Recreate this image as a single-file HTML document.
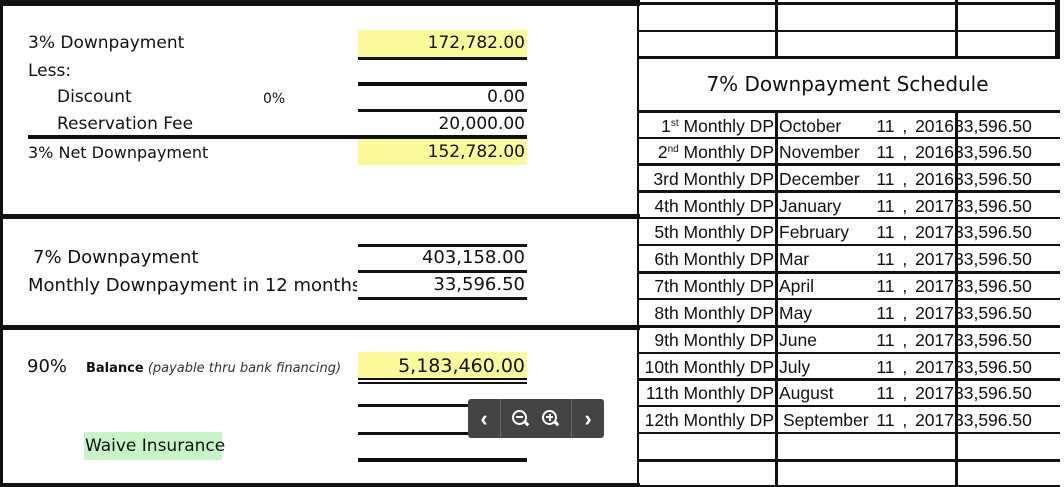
<!DOCTYPE html>
<html><head><style>
body{margin:0;width:1064px;height:487px;position:relative;background:#fff;overflow:hidden;font-family:"Liberation Sans","DejaVu Sans",sans-serif;color:#111}
div{position:absolute}
.l{background:#111}
.t{font-size:17.5px;line-height:20px;white-space:nowrap}
.d{font-family:"DejaVu Sans",sans-serif;font-size:17px}
.r{text-align:right}
.y{background:#fafa9a}
sup{font-size:10px;line-height:0;vertical-align:6px}
</style></head><body>
<!-- left panel borders -->
<div class="l" style="left:0;top:0;width:640px;height:6px"></div>
<div class="l" style="left:0;top:0;width:3px;height:487px"></div>
<div class="l" style="left:0;top:214px;width:640px;height:5px"></div>
<div class="l" style="left:0;top:325px;width:640px;height:5px"></div>
<div class="l" style="left:0;top:483px;width:640px;height:4px"></div>

<div class="y" style="left:358px;top:30px;width:169px;height:27px"></div>
<div class="t d" style="left:28px;top:33px">3% Downpayment</div>
<div class="t d r" style="left:358px;top:33px;width:167px">172,782.00</div>
<div class="l" style="left:358px;top:57px;width:169px;height:3px"></div>
<div class="t d" style="left:28px;top:61px">Less:</div>
<div class="l" style="left:358px;top:82px;width:169px;height:4px"></div>
<div class="t d" style="left:57px;top:87px">Discount</div>
<div class="t d" style="left:263px;top:89px;font-size:14px">0%</div>
<div class="t d r" style="left:358px;top:87px;width:167px">0.00</div>
<div class="l" style="left:358px;top:109px;width:169px;height:3px"></div>
<div class="t d" style="left:57px;top:114px">Reservation Fee</div>
<div class="t d r" style="left:358px;top:114px;width:167px">20,000.00</div>
<div class="l" style="left:28px;top:135px;width:499px;height:4px"></div>
<div class="y" style="left:358px;top:139px;width:169px;height:26px"></div>
<div class="t d" style="left:28px;top:143px;font-size:16px">3% Net Downpayment</div>
<div class="t d r" style="left:358px;top:142px;width:167px">152,782.00</div>

<div class="l" style="left:358px;top:244px;width:169px;height:3px"></div>
<div class="t d" style="left:33px;top:248px;font-size:18px">7% Downpayment</div>
<div class="t d r" style="left:358px;top:248px;width:167px;font-size:18px">403,158.00</div>
<div class="l" style="left:358px;top:270px;width:169px;height:3px"></div>
<div class="t d" style="left:28px;top:276px;font-size:18px;width:329px;overflow:hidden">Monthly Downpayment in 12 months</div>
<div class="t d r" style="left:358px;top:275px;width:167px;font-size:18px">33,596.50</div>
<div class="l" style="left:358px;top:297px;width:169px;height:3px"></div>

<div class="y" style="left:358px;top:352px;width:169px;height:27px"></div>
<div class="t d" style="left:27px;top:357px;font-size:18px">90%</div>
<div class="t d" style="left:86px;top:359px;font-size:13px"><b>Balance</b> <i style="color:#333">(payable thru bank financing)</i></div>
<div class="t d r" style="left:358px;top:356px;width:167px;font-size:19px">5,183,460.00</div>
<div class="l" style="left:358px;top:378px;width:169px;height:2px"></div>
<div class="l" style="left:358px;top:382px;width:169px;height:2px"></div>
<div class="l" style="left:358px;top:404px;width:169px;height:3px"></div>
<div class="l" style="left:358px;top:432px;width:169px;height:3px"></div>
<div class="l" style="left:358px;top:458px;width:169px;height:4px"></div>
<div style="left:84px;top:432px;width:138px;height:28px;background:#c8f5c8"></div>
<div class="t d" style="left:85px;top:436px">Waive Insurance</div>

<div style="left:468px;top:399px;width:136px;height:39px;background:#444;border-radius:3px;color:#fff;font-size:22px;font-weight:bold">
<div style="left:0;top:7px;width:32px;text-align:center">‹</div>
<div style="left:32px;top:0;width:1px;height:39px;background:#666"></div>
<div style="left:44px;top:11px;width:11px;height:11px;border:2px solid #fff;border-radius:50%"></div>
<div style="left:48px;top:17px;width:7px;height:2px;background:#fff"></div>
<div style="left:56px;top:23px;width:5px;height:3px;background:#fff;transform:rotate(45deg)"></div>
<div style="left:74px;top:11px;width:11px;height:11px;border:2px solid #fff;border-radius:50%"></div>
<div style="left:78px;top:17px;width:7px;height:2px;background:#fff"></div>
<div style="left:80.5px;top:14.5px;width:2px;height:7px;background:#fff"></div>
<div style="left:86px;top:23px;width:5px;height:3px;background:#fff;transform:rotate(45deg)"></div>
<div style="left:103px;top:0;width:1px;height:39px;background:#666"></div>
<div style="left:104px;top:7px;width:32px;text-align:center">›</div>
</div>

<!-- right panel -->
<div class="l" style="left:637px;top:0;width:2px;height:487px"></div>
<div class="l" style="left:775px;top:0;width:3px;height:58px"></div>
<div class="l" style="left:955px;top:0;width:3px;height:58px"></div>
<div class="l" style="left:1055px;top:0;width:5px;height:58px"></div>
<div class="l" style="left:775px;top:111px;width:3px;height:376px"></div>
<div class="l" style="left:637px;top:2px;width:423px;height:3px"></div>
<div class="l" style="left:637px;top:30px;width:423px;height:2px"></div>
<div class="l" style="left:637px;top:56px;width:423px;height:3px"></div>
<div class="t d" style="left:640px;top:72px;width:415px;text-align:center;font-size:20px;line-height:24px">7% Downpayment Schedule</div>
<div class="l" style="left:637px;top:110px;width:423px;height:3px"></div>
<div class="l" style="left:637px;top:137px;width:423px;height:2px"></div>
<div class="l" style="left:637px;top:163px;width:423px;height:3px"></div>
<div class="l" style="left:637px;top:190px;width:423px;height:3px"></div>
<div class="l" style="left:637px;top:217px;width:423px;height:2px"></div>
<div class="l" style="left:637px;top:244px;width:423px;height:2px"></div>
<div class="l" style="left:637px;top:271px;width:423px;height:3px"></div>
<div class="l" style="left:637px;top:298px;width:423px;height:2px"></div>
<div class="l" style="left:637px;top:325px;width:423px;height:3px"></div>
<div class="l" style="left:637px;top:352px;width:423px;height:2px"></div>
<div class="l" style="left:637px;top:378px;width:423px;height:3px"></div>
<div class="l" style="left:637px;top:405px;width:423px;height:2px"></div>
<div class="l" style="left:637px;top:432px;width:423px;height:2px"></div>
<div class="l" style="left:637px;top:459px;width:423px;height:3px"></div>
<div class="l" style="left:637px;top:485px;width:423px;height:2px"></div>

<div class="t r" style="left:640px;top:116px;width:134px">1<sup>st</sup> Monthly DP</div>
<div class="t r" style="left:640px;top:142px;width:134px">2<sup>nd</sup> Monthly DP</div>
<div class="t r" style="left:640px;top:169px;width:134px">3rd Monthly DP</div>
<div class="t r" style="left:640px;top:196px;width:134px">4th Monthly DP</div>
<div class="t r" style="left:640px;top:222px;width:134px">5th Monthly DP</div>
<div class="t r" style="left:640px;top:249px;width:134px">6th Monthly DP</div>
<div class="t r" style="left:640px;top:276px;width:134px">7th Monthly DP</div>
<div class="t r" style="left:640px;top:303px;width:134px">8th Monthly DP</div>
<div class="t r" style="left:640px;top:330px;width:134px">9th Monthly DP</div>
<div class="t r" style="left:640px;top:357px;width:134px">10th Monthly DP</div>
<div class="t r" style="left:640px;top:383px;width:134px">11th Monthly DP</div>
<div class="t r" style="left:640px;top:410px;width:134px">12th Monthly DP</div>

<div class="t" style="left:779px;top:116px">October</div>
<div class="t" style="left:779px;top:142px">November</div>
<div class="t" style="left:779px;top:169px">December</div>
<div class="t" style="left:779px;top:196px">January</div>
<div class="t" style="left:779px;top:222px">February</div>
<div class="t" style="left:779px;top:249px">Mar</div>
<div class="t" style="left:779px;top:276px">April</div>
<div class="t" style="left:779px;top:303px">May</div>
<div class="t" style="left:779px;top:330px">June</div>
<div class="t" style="left:779px;top:357px">July</div>
<div class="t" style="left:779px;top:383px">August</div>
<div class="t" style="left:783px;top:410px">September</div>

<div class="t r" style="left:860px;top:116px;width:94px;word-spacing:3px">11 , 2016</div>
<div class="t r" style="left:860px;top:142px;width:94px;word-spacing:3px">11 , 2016</div>
<div class="t r" style="left:860px;top:169px;width:94px;word-spacing:3px">11 , 2016</div>
<div class="t r" style="left:860px;top:196px;width:94px;word-spacing:3px">11 , 2017</div>
<div class="t r" style="left:860px;top:222px;width:94px;word-spacing:3px">11 , 2017</div>
<div class="t r" style="left:860px;top:249px;width:94px;word-spacing:3px">11 , 2017</div>
<div class="t r" style="left:860px;top:276px;width:94px;word-spacing:3px">11 , 2017</div>
<div class="t r" style="left:860px;top:303px;width:94px;word-spacing:3px">11 , 2017</div>
<div class="t r" style="left:860px;top:330px;width:94px;word-spacing:3px">11 , 2017</div>
<div class="t r" style="left:860px;top:357px;width:94px;word-spacing:3px">11 , 2017</div>
<div class="t r" style="left:860px;top:383px;width:94px;word-spacing:3px">11 , 2017</div>
<div class="t r" style="left:860px;top:410px;width:94px;word-spacing:3px">11 , 2017</div>

<div class="t" style="left:954px;top:116px">33,596.50</div>
<div class="t" style="left:954px;top:142px">33,596.50</div>
<div class="t" style="left:954px;top:169px">33,596.50</div>
<div class="t" style="left:954px;top:196px">33,596.50</div>
<div class="t" style="left:954px;top:222px">33,596.50</div>
<div class="t" style="left:954px;top:249px">33,596.50</div>
<div class="t" style="left:954px;top:276px">33,596.50</div>
<div class="t" style="left:954px;top:303px">33,596.50</div>
<div class="t" style="left:954px;top:330px">33,596.50</div>
<div class="t" style="left:954px;top:357px">33,596.50</div>
<div class="t" style="left:954px;top:383px">33,596.50</div>
<div class="t" style="left:954px;top:410px">33,596.50</div>
<div class="l" style="left:955px;top:111px;width:3px;height:376px"></div>
</body></html>
